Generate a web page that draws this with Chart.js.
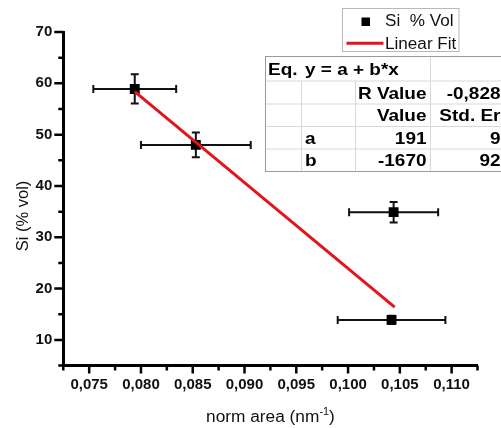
<!DOCTYPE html>
<html><head><meta charset="utf-8">
<script src="https://cdn.jsdelivr.net/npm/chart.js@4"></script>
<style>html,body{margin:0;padding:0;background:#fff;} canvas{display:block;}</style>
</head><body>
<canvas id="c" width="501" height="428"></canvas>
<script>
// ---- data ----
const xValues = [0.0794, 0.0853, 0.1044, 0.1042];
const yValues = [58.9, 48.0, 34.9, 13.9];
const xErrors = [0.0040, 0.0053, 0.0043, 0.0052];
const yErrors = [2.85, 2.4, 2.0, 0.8];
const fitX = [0.0794, 0.1045];
const fitY = [58.4, 16.4];

const xMajorTicks = [0.075, 0.080, 0.085, 0.090, 0.095, 0.100, 0.105, 0.110];
const xTickLabels = ['0,075', '0,080', '0,085', '0,090', '0,095', '0,100', '0,105', '0,110'];
const xMinorTicks = [0.0725, 0.0775, 0.0825, 0.0875, 0.0925, 0.0975, 0.1025, 0.1075, 0.1125];
const yMajorTicks = [10, 20, 30, 40, 50, 60, 70];
const yTickLabels = ['10', '20', '30', '40', '50', '60', '70'];
const yMinorTicks = [5, 15, 25, 35, 45, 55, 65];

const legendLabels = ['Si  % Vol', 'Linear Fit'];
const xTitle = 'norm area (nm';
const xTitleSup = '-1';
const xTitleEnd = ')';
const yTitle = 'Si (% vol)';
const tableRows = [
  ['Eq.', 'y = a + b*x', '', ''],
  ['', '', 'R Value', '-0,828'],
  ['', '', 'Value', 'Std. Er'],
  ['', 'a', '191', '9'],
  ['', 'b', '-1670', '92']
];

const FONT = '"Liberation Sans", Arial, sans-serif';

function stretchedText(ctx, text, x, y, align, font, sx, color) {
  ctx.save();
  ctx.font = font;
  ctx.fillStyle = color || '#000';
  ctx.textBaseline = 'alphabetic';
  ctx.translate(x, y);
  ctx.scale(sx, 1);
  ctx.textAlign = align;
  ctx.fillText(text, 0, 0);
  ctx.restore();
}

const errorBars = {
  id: 'errorBars',
  beforeDatasetsDraw(chart) {
    const ctx = chart.ctx, xs = chart.scales.x, ys = chart.scales.y;
    ctx.save();
    ctx.strokeStyle = '#111';
    ctx.lineWidth = 2;
    for (let i = 0; i < xValues.length; i++) {
      const cx = xs.getPixelForValue(xValues[i]);
      const cy = ys.getPixelForValue(yValues[i]);
      const x1 = xs.getPixelForValue(xValues[i] - xErrors[i]);
      const x2 = xs.getPixelForValue(xValues[i] + xErrors[i]);
      const y1 = ys.getPixelForValue(yValues[i] + yErrors[i]);
      const y2 = ys.getPixelForValue(yValues[i] - yErrors[i]);
      ctx.beginPath();
      ctx.moveTo(x1, cy); ctx.lineTo(x2, cy);
      ctx.moveTo(x1, cy - 4); ctx.lineTo(x1, cy + 4);
      ctx.moveTo(x2, cy - 4); ctx.lineTo(x2, cy + 4);
      ctx.moveTo(cx, y1); ctx.lineTo(cx, y2);
      ctx.moveTo(cx - 4, y1); ctx.lineTo(cx + 4, y1);
      ctx.moveTo(cx - 4, y2); ctx.lineTo(cx + 4, y2);
      ctx.stroke();
    }
    ctx.restore();
  }
};

const decorations = {
  id: 'decorations',
  afterDraw(chart) {
    const ctx = chart.ctx, xs = chart.scales.x, ys = chart.scales.y;
    const area = chart.chartArea;
    ctx.save();
    // axis tick marks
    ctx.strokeStyle = '#000';
    ctx.lineWidth = 2.5;
    ctx.beginPath();
    xMajorTicks.forEach(v => { const p = xs.getPixelForValue(v); ctx.moveTo(p, area.bottom); ctx.lineTo(p, area.bottom + 8); });
    xMinorTicks.forEach(v => { const p = xs.getPixelForValue(v); ctx.moveTo(p, area.bottom); ctx.lineTo(p, area.bottom + 5); });
    yMajorTicks.forEach(v => { const p = ys.getPixelForValue(v); ctx.moveTo(area.left, p); ctx.lineTo(area.left - 9, p); });
    yMinorTicks.forEach(v => { const p = ys.getPixelForValue(v); ctx.moveTo(area.left, p); ctx.lineTo(area.left - 5, p); });
    ctx.stroke();

    // axis titles
    const tf = '16px ' + FONT;
    ctx.font = tf;
    const sx = 1.08;
    const w1 = ctx.measureText(xTitle).width * sx;
    ctx.font = '10px ' + FONT;
    const w2 = ctx.measureText(xTitleSup).width * sx;
    ctx.font = tf;
    const w3 = ctx.measureText(xTitleEnd).width * sx;
    const total = w1 + w2 + w3;
    const cx = (area.left + area.right) / 2;
    let tx = cx - total / 2;
    const baseY = 422;
    stretchedText(ctx, xTitle, tx, baseY, 'left', tf, sx, '#111');
    stretchedText(ctx, xTitleSup, tx + w1, baseY - 7, 'left', '10px ' + FONT, sx, '#111');
    stretchedText(ctx, xTitleEnd, tx + w1 + w2, baseY, 'left', tf, sx, '#111');

    ctx.save();
    ctx.translate(28, 216);
    ctx.rotate(-Math.PI / 2);
    ctx.font = '16.5px ' + FONT;
    ctx.fillStyle = '#111';
    ctx.textAlign = 'center';
    ctx.fillText(yTitle, 0, 0);
    ctx.restore();

    // legend box
    ctx.fillStyle = '#fff';
    ctx.fillRect(342.5, 8.5, 116.5, 43);
    ctx.strokeStyle = '#b8b8b8';
    ctx.lineWidth = 1;
    ctx.strokeRect(342.5, 8.5, 116.5, 43);
    ctx.fillStyle = '#000';
    ctx.fillRect(361.5, 17.5, 8.5, 8.5);
    ctx.strokeStyle = '#e3141b';
    ctx.lineWidth = 3;
    ctx.beginPath(); ctx.moveTo(346.5, 43.3); ctx.lineTo(383.5, 43.3); ctx.stroke();
    ctx.save();
    ctx.font = '16px ' + FONT;
    ctx.fillStyle = '#111';
    ctx.translate(385, 26);
    ctx.scale(1.07, 1);
    ctx.fillText(legendLabels[0], 0, 0);
    ctx.restore();
    stretchedText(ctx, legendLabels[1], 385, 48.5, 'left', '16px ' + FONT, 1.07, '#111');

    // results table
    const cols = [265.5, 301.5, 355.5, 430.5, 503];
    const rowsY = [56.5, 81, 104, 126.5, 149, 171.5];
    ctx.fillStyle = '#fff';
    ctx.fillRect(cols[0], rowsY[0], cols[4] - cols[0], rowsY[5] - rowsY[0]);
    ctx.lineWidth = 1;
    ctx.strokeStyle = '#d8d8d8';
    ctx.beginPath();
    for (let r = 1; r < 5; r++) { ctx.moveTo(cols[0], rowsY[r]); ctx.lineTo(cols[4], rowsY[r]); }
    ctx.moveTo(cols[3], rowsY[0]); ctx.lineTo(cols[3], rowsY[5]);
    ctx.moveTo(cols[1], rowsY[1]); ctx.lineTo(cols[1], rowsY[5]);
    ctx.moveTo(cols[2], rowsY[1]); ctx.lineTo(cols[2], rowsY[5]);
    ctx.stroke();
    ctx.strokeStyle = '#9a9a9a';
    ctx.strokeRect(cols[0], rowsY[0], cols[4] - cols[0], rowsY[5] - rowsY[0]);

    const bf = 'bold 16.5px ' + FONT;
    const tsx = 1.15;
    for (let r = 0; r < tableRows.length; r++) {
      const row = tableRows[r];
      const by = (rowsY[r] + rowsY[r + 1]) / 2 + 6;
      if (row[0]) stretchedText(ctx, row[0], cols[0] + 2.5, by, 'left', bf, tsx, '#000');
      if (row[1]) stretchedText(ctx, row[1], cols[1] + 3.5, by, 'left', bf, tsx, '#000');
      if (row[2]) stretchedText(ctx, row[2], cols[3] - 4, by, 'right', bf, tsx, '#000');
      if (row[3]) stretchedText(ctx, row[3], 500.5, by, 'right', bf, tsx, '#000');
    }
    ctx.restore();
  }
};

new Chart(document.getElementById('c'), {
  type: 'scatter',
  data: {
    datasets: [
      {
        type: 'line',
        label: legendLabels[1],
        data: fitX.map((x, i) => ({ x: x, y: fitY[i] })),
        borderColor: '#e3141b',
        borderWidth: 3,
        pointRadius: 0,
        fill: false,
        tension: 0
      },
      {
        label: legendLabels[0],
        data: xValues.map((x, i) => ({ x: x, y: yValues[i] })),
        pointStyle: 'rect',
        pointRadius: 7,
        backgroundColor: '#000',
        borderWidth: 0
      }
    ]
  },
  plugins: [errorBars, decorations],
  options: {
    responsive: false,
    animation: false,
    devicePixelRatio: 1,
    layout: { padding: { left: 0, top: 32, right: 23.5, bottom: 0 } },
    plugins: { legend: { display: false }, tooltip: { enabled: false } },
    scales: {
      x: {
        type: 'linear',
        position: 'bottom',
        min: 0.0725,
        max: 0.1125,
        afterBuildTicks: s => { s.ticks = xMajorTicks.map(v => ({ value: v })); },
        afterFit: s => { s.height = 62.4; },
        grid: { display: false, drawTicks: false },
        border: { display: true, color: '#000', width: 3 },
        ticks: {
          autoSkip: false, maxRotation: 0, padding: 10, color: '#111',
          font: { family: FONT, size: 15, weight: 'bold' },
          callback: (v, i) => xTickLabels[i]
        }
      },
      y: {
        type: 'linear',
        position: 'left',
        min: 5,
        max: 70,
        afterBuildTicks: s => { s.ticks = yMajorTicks.map(v => ({ value: v })); },
        afterFit: s => { s.width = 63.3; },
        grid: { display: false, drawTicks: false },
        border: { display: true, color: '#000', width: 3 },
        ticks: {
          autoSkip: false, padding: 11, color: '#111',
          font: { family: FONT, size: 15, weight: 'bold' },
          callback: (v, i) => yTickLabels[i]
        }
      }
    }
  }
});
</script>
</body></html>
